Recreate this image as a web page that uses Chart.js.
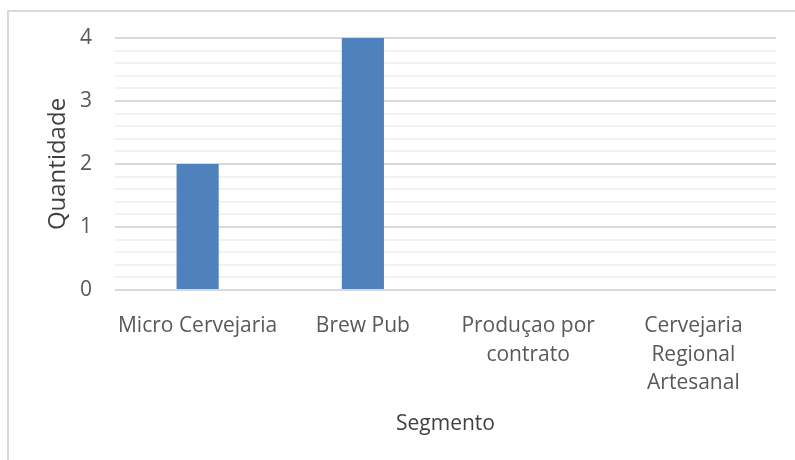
<!DOCTYPE html>
<html>
<head>
<meta charset="utf-8">
<title>Segmento</title>
<script src="https://cdn.jsdelivr.net/npm/chart.js@4/dist/chart.umd.min.js"></script>
<style>
  html, body { margin: 0; padding: 0; background: #fff; }
  #wrap { position: relative; width: 795px; height: 460px; }
</style>
</head>
<body>
<div id="wrap"><canvas id="chart" width="795" height="460"></canvas></div>
<script>
// ============================================
// Quantidade por segmento
// ============================================

const segments = [
    'Micro Cervejaria',
    'Brew Pub',
    ['Produçao por', 'contrato'],
    ['Cervejaria', 'Regional', 'Artesanal']
];
const quantities = [2, 4, 0, 0];
const yMax = 4;
const yStep = 0.2;

const FONT = 'Open Sans';
const TICK_COLOR = '#595959';
const TITLE_COLOR = '#404040';

function isMajor(v) {
    return Math.abs(v - Math.round(v)) < 1e-6;
}

// light frame around the chart (left + top edge)
const framePlugin = {
    id: 'frame',
    beforeDraw(chart) {
        const ctx = chart.ctx;
        ctx.save();
        ctx.strokeStyle = '#d9d9d9';
        ctx.lineWidth = 2;
        ctx.beginPath();
        ctx.moveTo(8, chart.height);
        ctx.lineTo(8, 11);
        ctx.lineTo(chart.width, 11);
        ctx.stroke();
        ctx.restore();
    }
};

const ctx = document.getElementById('chart').getContext('2d');
new Chart(ctx, {
    type: 'bar',
    data: {
        labels: segments,
        datasets: [{
            label: 'Quantidade',
            data: quantities,
            backgroundColor: '#4f81bd',
            borderWidth: 0,
            categoryPercentage: 1,
            barPercentage: 0.255,
        }]
    },
    options: {
        responsive: false,
        animation: false,
        layout: {
            padding: { left: 42, right: 19, top: 38, bottom: 19 }
        },
        plugins: {
            legend: { display: false },
            tooltip: { enabled: false }
        },
        scales: {
            x: {
                grid: { display: false, drawTicks: false },
                border: { display: false },
                ticks: {
                    color: TICK_COLOR,
                    padding: 22,
                    maxRotation: 0,
                    autoSkip: false,
                    font: { size: 21, family: FONT, lineHeight: 1.35 }
                },
                title: {
                    display: true,
                    text: 'Segmento',
                    color: TITLE_COLOR,
                    padding: { top: 4, bottom: 4 },
                    font: { size: 21, family: FONT }
                },
                afterFit(scale) { scale.height = 151; }
            },
            y: {
                min: 0,
                max: yMax,
                grid: {
                    drawTicks: false,
                    lineWidth: 2,
                    color: (c) => isMajor(c.tick.value) ? '#d9d9d9' : '#f2f2f2'
                },
                border: { display: false },
                ticks: {
                    stepSize: yStep,
                    autoSkip: false,
                    color: TICK_COLOR,
                    padding: 23,
                    font: { size: 21, family: FONT },
                    callback: (v) => isMajor(v) ? Math.round(v) : ''
                },
                title: {
                    display: true,
                    text: 'Quantidade',
                    color: TITLE_COLOR,
                    padding: { top: 2, bottom: 2 },
                    font: { size: 24, family: FONT }
                },
                afterFit(scale) { scale.width = 73; }
            }
        }
    },
    plugins: [framePlugin]
});
</script>
</body>
</html>
